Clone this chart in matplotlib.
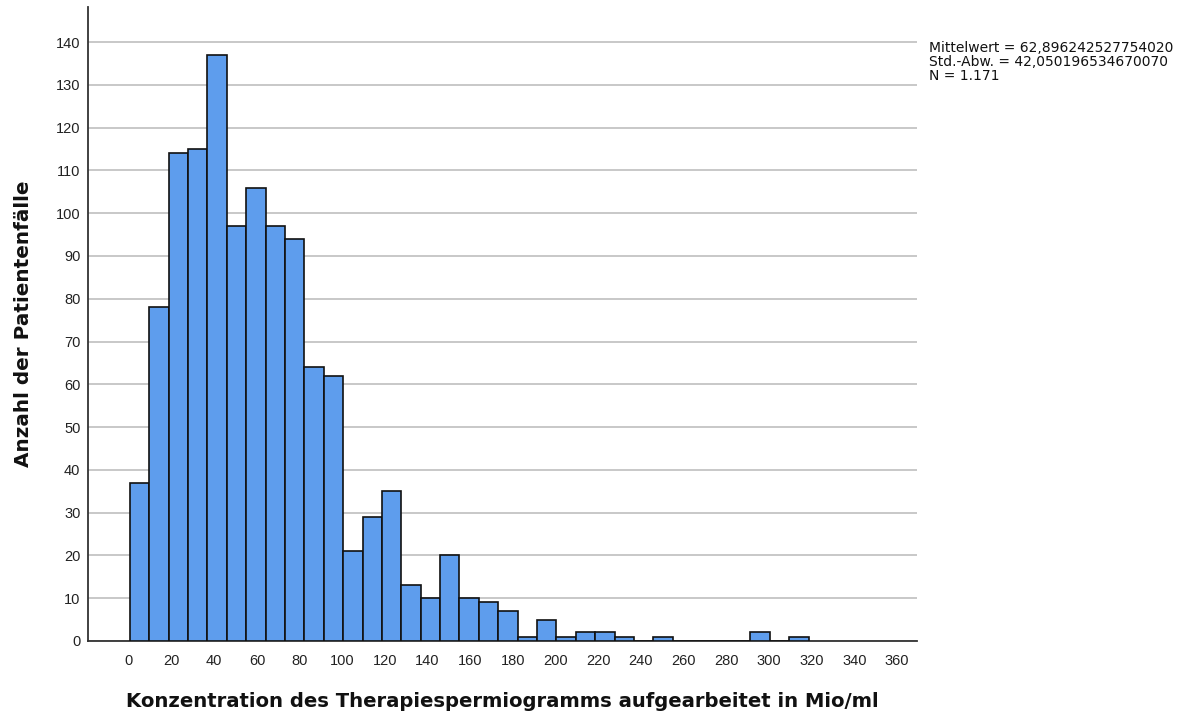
import matplotlib
matplotlib.use("Agg")
import matplotlib.pyplot as plt
import numpy as np

plt.rcParams['font.family'] = ['Liberation Sans', 'DejaVu Sans']

# Histogram data (counts per bin)
bin_start = 0.4
bin_width = 9.09
counts = [37, 78, 114, 115, 137, 97, 106, 97, 94, 64, 62, 21, 29, 35, 13, 10, 20,
          10, 9, 7, 1, 5, 1, 2, 2, 1, 0, 1, 0, 0, 0, 0, 2, 0, 1]
x_ticks = list(range(0, 361, 20))
y_ticks = list(range(0, 141, 10))
stats_text = ["Mittelwert = 62,896242527754020",
              "Std.-Abw. = 42,050196534670070",
              "N = 1.171"]
xlabel = "Konzentration des Therapiespermiogramms aufgearbeitet in Mio/ml"
ylabel = "Anzahl der Patientenfälle"

fig = plt.figure(figsize=(11.84, 7.18), dpi=100)
ax = fig.add_axes([88/1184, 1-641/718, (917-88)/1184, (641-7)/718])

lefts = bin_start + bin_width * np.arange(len(counts))
ax.bar(lefts, counts, width=bin_width, align='edge', color='#5e9ded',
       edgecolor='#111111', linewidth=1.2, zorder=3)

ax.set_xlim(-19.2, 369.4)
ax.set_ylim(0, 148.2)
ax.set_xticks(x_ticks)
ax.set_yticks(y_ticks)
ax.tick_params(axis='both', length=0, labelsize=10.5, colors='#222222')
ax.tick_params(axis='y', pad=5.5)
ax.tick_params(axis='x', pad=9.5)
ax.yaxis.grid(True, color='#c4c4c4', linewidth=1.3, zorder=0)
ax.set_axisbelow(True)
for s in ['top', 'right']:
    ax.spines[s].set_visible(False)
for s in ['left', 'bottom']:
    ax.spines[s].set_color('#333333')
    ax.spines[s].set_linewidth(1.3)

ax.set_xlabel(xlabel, fontsize=14.1, fontweight='bold', labelpad=17, color='#111111',
              family=['DejaVu Sans'])
ax.set_ylabel(ylabel, fontsize=14.4, fontweight='bold', labelpad=16.5, color='#111111',
              family=['DejaVu Sans'])

fig.text(929/1184, 1-41/718, "\n".join(stats_text), fontsize=10, va='top', ha='left',
         linespacing=1.0, color='#111111', family=['DejaVu Sans'])

fig.savefig("out.png", dpi=100)
